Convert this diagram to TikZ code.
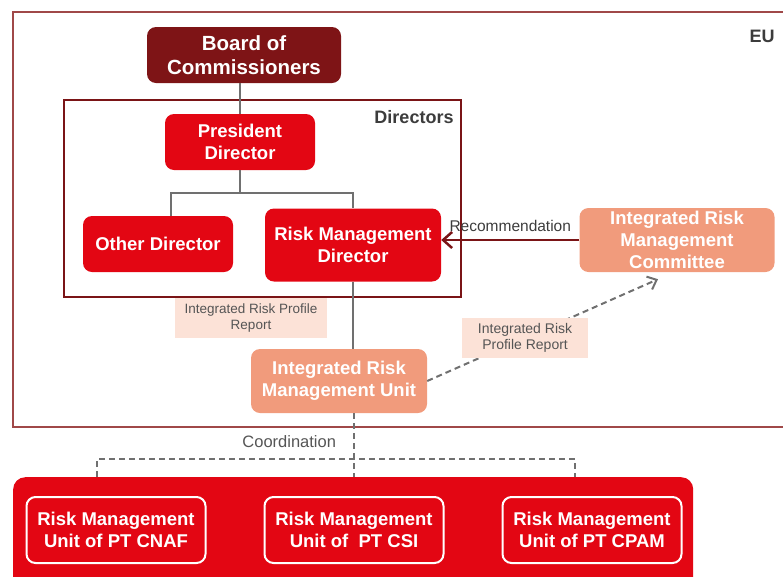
\documentclass[tikz,border=0pt]{standalone}
\usepackage{fontspec}
\setmainfont{Liberation Sans}
\usetikzlibrary{calc,arrows.meta}
\definecolor{boardred}{HTML}{7E1416}
\definecolor{mainred}{HTML}{E30613}
\definecolor{salmon}{HTML}{F19B7C}
\definecolor{peach}{HTML}{FCE2D7}
\definecolor{eured}{HTML}{A04848}
\definecolor{dirred}{HTML}{7A1416}
\definecolor{linegray}{HTML}{707070}
\definecolor{textgray}{HTML}{3C3C3C}
\definecolor{taggray}{HTML}{555555}

\begin{document}
\begin{tikzpicture}[x=1pt,y=-1pt,
  box/.style={rounded corners=9pt, text=white, align=center, inner sep=0pt,
    font=\bfseries\fontsize{18.5}{22}\selectfont},
  boardbox/.style={box, fill=boardred, font=\bfseries\fontsize{20.5}{24.5}\selectfont},
  redbox/.style={box, fill=mainred},
  salmonbox/.style={box, fill=salmon},
  unitbox/.style={box, draw=white, line width=2pt, minimum width=179pt, minimum height=66pt},
  tag/.style={fill=peach, text=taggray, align=center, inner sep=0pt,
    font=\fontsize{13.5}{15.5}\selectfont},
  conn/.style={draw=linegray, line width=2pt},
  dashconn/.style={conn, dash pattern=on 6pt off 4pt},
]
\useasboundingbox (0,0) rectangle (783,576);

% EU frame and Directors frame
\draw[eured, line width=1.5pt] (800,12) -- (13,12) -- (13,427) -- (800,427);
\draw[dirred, line width=2pt] (64,100) rectangle (461,297);
\node[font=\bfseries\fontsize{18}{20}\selectfont, text=textgray] (eu) at (762,36) {EU};
\node[font=\bfseries\fontsize{18}{20}\selectfont, text=textgray] (dirlabel) at (414,117) {Directors};

\node[boardbox, minimum width=194pt, minimum height=56pt] (board) at (244,55) {Board of\\Commissioners};
\node[redbox, minimum width=150pt, minimum height=56pt] (pres) at (240,142) {President\\Director};
\node[redbox, minimum width=150pt, minimum height=56pt] (other) at (158,244) {Other Director};
\node[redbox, minimum width=176pt, minimum height=73pt] (rmd) at (353,245) {Risk Management\\Director};
\node[salmonbox, minimum width=195pt, minimum height=64pt] (irmc) at (677,240) {Integrated Risk\\Management\\Committee};
\node[salmonbox, minimum width=176pt, minimum height=64pt] (irmu) at (339,381) {Integrated Risk\\Management Unit};
\node[tag, minimum width=152pt, minimum height=40pt] (rep1) at (251,318) {Integrated Risk Profile\\Report};

% bottom panel
\node[fill=mainred, rounded corners=12pt, minimum width=680pt, minimum height=130pt,
  anchor=north west, inner sep=0pt] (units) at (13,477) {};
\node[unitbox] (cnaf) at (116,530) {Risk Management\\Unit of PT CNAF};
\node[unitbox] (csi) at (354,530) {Risk Management\\Unit of~ PT CSI};
\node[unitbox] (cpam) at (592,530) {Risk Management\\Unit of PT CPAM};

\coordinate (fork) at ($(pres.south)+(0,23)$);
\coordinate (irmctip) at ($(irmc.south)+(-19,7)$);
\coordinate (cl) at (97,459);
\coordinate (cr) at (575,459);

\draw[conn] (pres.north) -- (pres.north |- board.south);
\draw[conn] (pres.south) -- (fork);
\draw[conn] ($(other.north)+(13,0)$) |- (fork) -| (rmd.north);
\draw[conn] (rmd.south) -- (rmd.south |- irmu.north);

\draw[dirred, line width=2.5pt, -{Straight Barb[length=9pt,width=16pt]}] (irmc.west) --
  node[midway, above=4pt, text=textgray, font=\fontsize{15.5}{18}\selectfont] (rec) {Recommendation}
  (rmd.east |- irmc.west);

\draw[dashconn, -{Straight Barb[length=8pt,width=14pt]}] (irmu.east) --
  node[tag, pos=0.424, minimum width=126pt, minimum height=40pt, font=\fontsize{14}{16}\selectfont] (rep2) {Integrated Risk\\Profile Report}
  (irmctip);

\draw[dashconn] (csi.north |- irmu.south) --
  node[pos=0.44, left=17pt, inner sep=0pt, text=taggray, font=\fontsize{16.5}{18}\selectfont] (coord) {Coordination}
  (csi.north |- units.north);
\draw[dashconn] (cl |- units.north) |- (cr) -- (cr |- units.north);

\end{tikzpicture}
\end{document}
